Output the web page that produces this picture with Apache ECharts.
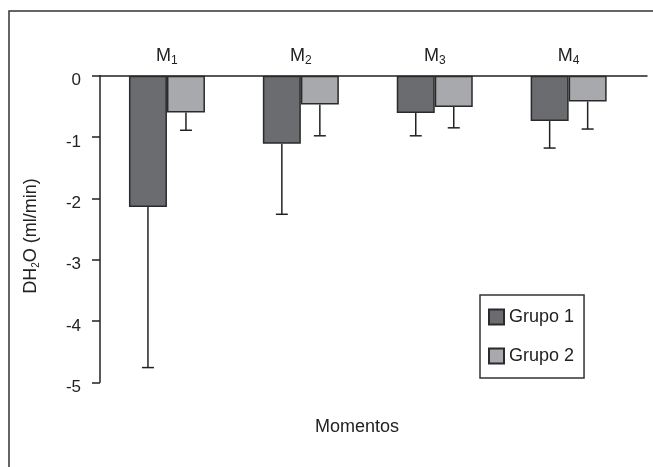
<!DOCTYPE html>
<html>
<head>
<meta charset="utf-8">
<script src="https://cdn.jsdelivr.net/npm/echarts@6/dist/echarts.min.js"></script>
<style>
  html, body { margin: 0; padding: 0; background: #fff; }
  #chart { width: 653px; height: 467px; }
</style>
</head>
<body>
<div id="chart"></div>
<script>
// Moments (category index for the subscript)
const moments = ['1', '2', '3', '4'];
const groupNames = ['Grupo 1', 'Grupo 2'];
// Mean DH2O (ml/min) per moment
const grupo1Mean = [-2.14, -1.11, -0.61, -0.74];
const grupo2Mean = [-0.60, -0.47, -0.51, -0.42];
// Standard deviation (drawn downward from the mean)
const grupo1SD = [2.62, 1.15, 0.37, 0.44];
const grupo2SD = [0.29, 0.51, 0.34, 0.45];
// Y axis ticks
const yTicks = [0, -1, -2, -3, -4, -5];

const FONT = '"Liberation Sans", Arial, sans-serif';
const INK = '#222';
const BAR_W = 38;

const chart = echarts.init(document.getElementById('chart'), null, { renderer: 'canvas' });

function errorRender(sign) {
  return function (params, api) {
    const idx = api.value(0);
    const top = api.coord([idx, api.value(1)]);
    const bot = api.coord([idx, api.value(2)]);
    const x = top[0] + sign * BAR_W / 2;
    const cap = 6;
    const style = { stroke: INK, lineWidth: 1.5 };
    return {
      type: 'group',
      children: [
        { type: 'line', shape: { x1: x, y1: top[1], x2: x, y2: bot[1] }, style: style },
        { type: 'line', shape: { x1: x - cap, y1: bot[1], x2: x + cap, y2: bot[1] }, style: style }
      ]
    };
  };
}

const err1 = grupo1Mean.map((m, i) => [i, m, +(m - grupo1SD[i]).toFixed(2)]);
const err2 = grupo2Mean.map((m, i) => [i, m, +(m - grupo2SD[i]).toFixed(2)]);

const option = {
  animation: false,
  backgroundColor: '#fff',
  textStyle: { fontFamily: FONT, color: INK },
  grid: [
    { left: 100, right: 17.4, top: 75.7, bottom: 84.7 },
    { left: 100, right: 6, top: 75.7, bottom: 84.7 }
  ],
  xAxis: [
    {
      type: 'category',
      gridIndex: 0,
      data: moments,
      position: 'top',
      axisLine: { show: false },
      axisTick: { show: false },
      axisLabel: {
        margin: 9,
        formatter: v => '{m|M}{s|' + v + '}',
        rich: {
          m: { fontSize: 18, color: INK, fontFamily: FONT },
          s: { fontSize: 12, color: INK, fontFamily: FONT, padding: [9, 0, 0, 0] }
        }
      }
    },
    {
      type: 'value',
      gridIndex: 1,
      position: 'top',
      min: 0, max: 1,
      axisLine: { show: true, lineStyle: { color: INK, width: 1.5 } },
      axisTick: { show: false },
      axisLabel: { show: false },
      splitLine: { show: false }
    }
  ],
  yAxis: [
    {
      type: 'value',
      gridIndex: 0,
      min: -5, max: 0, interval: 1,
      axisLine: { show: true, lineStyle: { color: INK, width: 1.5 } },
      axisTick: { show: true, length: 8, lineStyle: { color: INK, width: 1.5 } },
      axisLabel: {
        margin: 19,
        formatter: v => yTicks.includes(v) ? '{v|' + v + '}' : '',
        rich: {
          v: { fontSize: 17, color: INK, fontFamily: FONT, padding: [10, 0, 0, 0] }
        }
      },
      splitLine: { show: false }
    },
    {
      type: 'value',
      gridIndex: 1,
      min: -5, max: 0,
      show: false
    }
  ],
  legend: {
    data: groupNames,
    orient: 'vertical',
    left: 480,
    top: 295,
    padding: [12, 10, 12, 8],
    borderColor: '#333',
    borderWidth: 1.5,
    itemGap: 19,
    itemWidth: 15,
    itemHeight: 15,
    icon: 'rect',
    textStyle: { fontSize: 18, lineHeight: 20, color: INK, fontFamily: FONT }
  },
  series: [
    {
      name: groupNames[0],
      type: 'bar',
      data: grupo1Mean,
      barWidth: BAR_W,
      barGap: '0%',
      itemStyle: { color: '#6b6c70', borderColor: '#2a2a2a', borderWidth: 1.5 }
    },
    {
      name: groupNames[1],
      type: 'bar',
      data: grupo2Mean,
      barWidth: BAR_W,
      barGap: '0%',
      itemStyle: { color: '#a8a9ac', borderColor: '#2a2a2a', borderWidth: 1.5 }
    },
    {
      name: 'sd1',
      type: 'custom',
      data: err1,
      renderItem: errorRender(-1),
      encode: { x: 0, y: [1, 2] },
      z: 1
    },
    {
      name: 'sd2',
      type: 'custom',
      data: err2,
      renderItem: errorRender(1),
      encode: { x: 0, y: [1, 2] },
      z: 1
    }
  ],
  graphic: [
    {
      type: 'rect',
      shape: { x: 9, y: 11, width: 700, height: 500 },
      style: { fill: 'none', stroke: '#333', lineWidth: 1.5 },
      silent: true
    },
    {
      type: 'text',
      x: 31, y: 236,
      rotation: Math.PI / 2,
      style: {
        text: '{a|DH}{b|2}{a|O (ml/min)}',
        align: 'center',
        verticalAlign: 'middle',
        rich: {
          a: { fontSize: 18, fill: INK, fontFamily: FONT },
          b: { fontSize: 10, fill: INK, fontFamily: FONT, padding: [10, 0, 0, 0] }
        }
      }
    },
    {
      type: 'text',
      x: 357, y: 427,
      style: {
        text: 'Momentos',
        fontSize: 18,
        fontFamily: FONT,
        fill: INK,
        align: 'center',
        verticalAlign: 'middle'
      }
    }
  ]
};

chart.setOption(option);
</script>
</body>
</html>
